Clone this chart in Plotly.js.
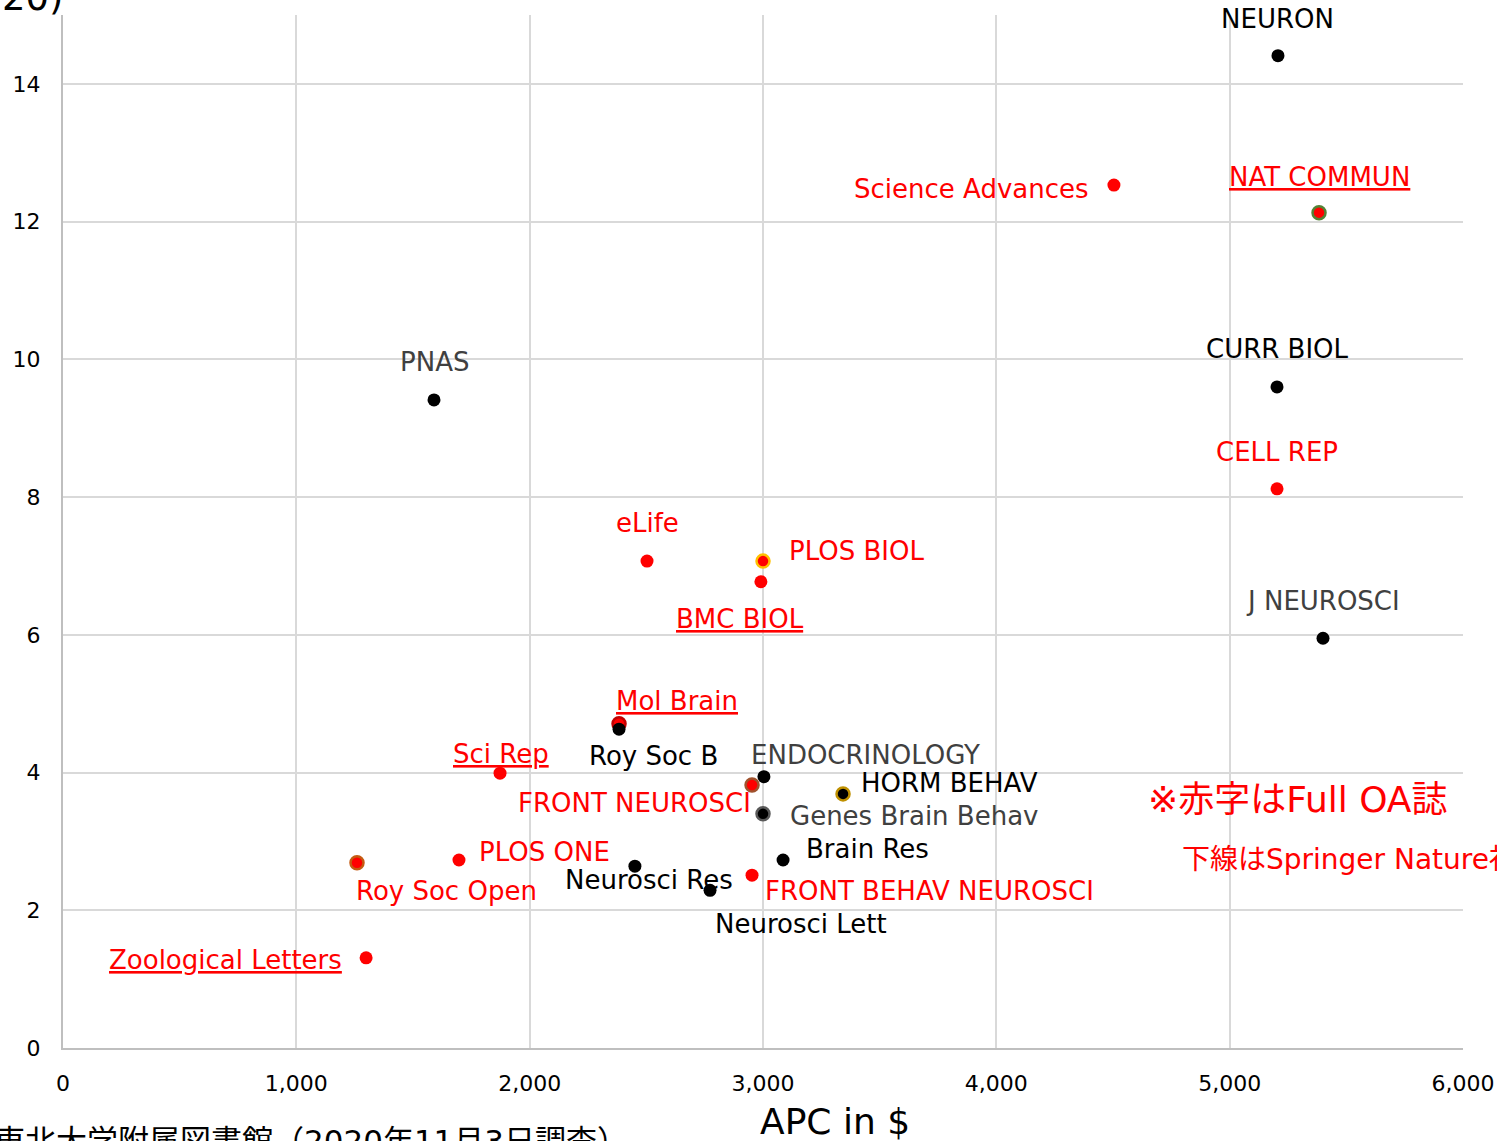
<!DOCTYPE html>
<html>
<head>
<meta charset="utf-8">
<script src="https://cdn.plot.ly/plotly-3.0.1.min.js"></script>
<style>html,body{margin:0;padding:0;background:#fff;}#chart{width:1497px;height:1141px;}</style>
</head>
<body>
<div id="chart"></div>
<script>
// ---- data ----
const journals = ["NEURON","Science Advances","NAT COMMUN","PNAS","CURR BIOL","CELL REP","eLife","PLOS BIOL","BMC BIOL","J NEUROSCI","Mol Brain","Roy Soc B","Sci Rep","ENDOCRINOLOGY","FRONT NEUROSCI","HORM BEHAV","Genes Brain Behav","Brain Res","PLOS ONE","Roy Soc Open","Neurosci Res","FRONT BEHAV NEUROSCI","Neurosci Lett","Zoological Letters"];
const apcUSD = [5207,4504,5383,1590,5203,5203,2503,3000,2991,5400,2383,2383,1873,3004,2953,3343,3000,3086,1697,1260,2451,2953,2773,1299];
const impactFactor = [14.41,12.53,12.13,9.41,9.60,8.12,7.07,7.07,6.77,5.95,4.71,4.63,3.99,3.94,3.82,3.69,3.40,2.73,2.73,2.69,2.64,2.51,2.29,1.31];
const fullOA = [0,1,1,0,0,1,1,1,1,0,1,0,1,0,1,0,0,0,1,1,0,1,0,1];
const springerNature = [0,0,1,0,0,0,0,0,1,0,1,0,1,0,0,0,0,0,0,0,0,0,0,1];
const xTickVals = [0,1000,2000,3000,4000,5000,6000];
const xTickText = ["0","1,000","2,000","3,000","4,000","5,000","6,000"];
const yTickVals = [0,2,4,6,8,10,12,14];
const xTitle = "APC in $";
const topFragment = "20)";
const sourceNote = "東北大学附属図書館（2020年11月3日調査）";
const noteRed = "※赤字はFull OA誌";
const noteUnderline = "下線はSpringer Nature社";

// ---- styles ----
const RED = "#ff0000";
const outlineColor = {
  "NAT COMMUN":"#548235","PLOS BIOL":"#ffc000","Roy Soc Open":"#c55a11",
  "FRONT NEUROSCI":"#a0522d","HORM BEHAV":"#bf9000","Genes Brain Behav":"#595959","Mol Brain":"#c00000"
};
const grayLabel = {"PNAS":1,"ENDOCRINOLOGY":1,"Genes Brain Behav":1,"J NEUROSCI":1};
// [xanchor, xshift, yshift]
const labelPos = {
  "NEURON":["center",0,37],
  "Science Advances":["right",-23,-4],
  "NAT COMMUN":["center",0,36],
  "PNAS":["center",0,38],
  "CURR BIOL":["center",0,38],
  "CELL REP":["center",0,37],
  "eLife":["center",0,38],
  "PLOS BIOL":["left",24,10],
  "BMC BIOL":["center",-21,-37],
  "J NEUROSCI":["center",0,37],
  "Mol Brain":["left",-5,23],
  "Roy Soc B":["left",-32,-27],
  "Sci Rep":["center",1,19],
  "ENDOCRINOLOGY":["left",-15,22],
  "FRONT NEUROSCI":["right",1,-18],
  "HORM BEHAV":["left",16,11],
  "Genes Brain Behav":["left",25,-2],
  "Brain Res":["left",21,11],
  "PLOS ONE":["left",18,8],
  "Roy Soc Open":["left",-3,-28],
  "Neurosci Res":["left",-72,-14],
  "FRONT BEHAV NEUROSCI":["left",11,-16],
  "Neurosci Lett":["left",3,-34],
  "Zoological Letters":["right",-22,-2]
};
const FONT = "DejaVu Sans, Noto Sans CJK JP, sans-serif";

const markerColors = fullOA.map(v => v ? RED : "#000000");
const lineColors = journals.map(n => outlineColor[n] || "rgba(0,0,0,0)");
const lineWidths = journals.map(n => outlineColor[n] ? 2.5 : 0);

const trace = {
  type:"scatter", mode:"markers",
  x: apcUSD, y: impactFactor, text: journals,
  marker:{size:13, color:markerColors, line:{color:lineColors, width:lineWidths}},
  hoverinfo:"text", cliponaxis:false
};

const annotations = journals.map((n,i) => {
  const p = labelPos[n];
  const col = fullOA[i] ? RED : (grayLabel[n] ? "#404040" : "#000000");
  const f = {family:FONT, size:26, color:col};
  if (springerNature[i]) f.lineposition = "under";
  return {x:apcUSD[i], y:impactFactor[i], xref:"x", yref:"y", text:n, showarrow:false,
    xanchor:p[0], yanchor:"middle", xshift:p[1], yshift:p[2], font:f};
});
annotations.push(
  {xref:"paper", yref:"paper", x:0.5514, y:-0.0716, xanchor:"center", yanchor:"middle", text:xTitle, showarrow:false, font:{family:FONT, size:36, color:"#000"}},
  {xref:"paper", yref:"paper", x:-0.045, y:0.994, xanchor:"left", yanchor:"bottom", text:topFragment, showarrow:false, font:{family:FONT, size:37, color:"#000"}},
  {xref:"paper", yref:"paper", x:-0.0507, y:-0.0705, xanchor:"left", yanchor:"top", text:sourceNote, showarrow:false, font:{family:FONT, size:31, color:"#000"}},
  {xref:"paper", yref:"paper", x:0.7736, y:0.2401, xanchor:"left", yanchor:"middle", text:noteRed, showarrow:false, font:{family:FONT, size:36, color:RED}},
  {xref:"paper", yref:"paper", x:0.798, y:0.182, xanchor:"left", yanchor:"middle", text:noteUnderline, showarrow:false, font:{family:FONT, size:28, color:RED}}
);

const layout = {
  width:1497, height:1141, autosize:false,
  margin:{l:63, r:34, t:15, b:93, pad:0},
  paper_bgcolor:"#fff", plot_bgcolor:"#fff",
  showlegend:false,
  font:{family:FONT, color:"#000"},
  xaxis:{range:[0,6000], tickvals:xTickVals, ticktext:xTickText, showgrid:true, gridcolor:"#d9d9d9", gridwidth:2,
    zeroline:false, showline:true, linecolor:"#bfbfbf", linewidth:2, ticks:"", ticklabelstandoff:15,
    tickfont:{family:FONT, size:22, color:"#000"}, fixedrange:true},
  yaxis:{range:[0,15], tickvals:yTickVals, showgrid:true, gridcolor:"#d9d9d9", gridwidth:2,
    zeroline:false, showline:true, linecolor:"#bfbfbf", linewidth:2, ticks:"", ticklabelstandoff:16,
    tickfont:{family:FONT, size:22, color:"#000"}, fixedrange:true},
  annotations: annotations
};

Plotly.newPlot("chart", [trace], layout, {displayModeBar:false, staticPlot:true});
</script>
</body>
</html>
